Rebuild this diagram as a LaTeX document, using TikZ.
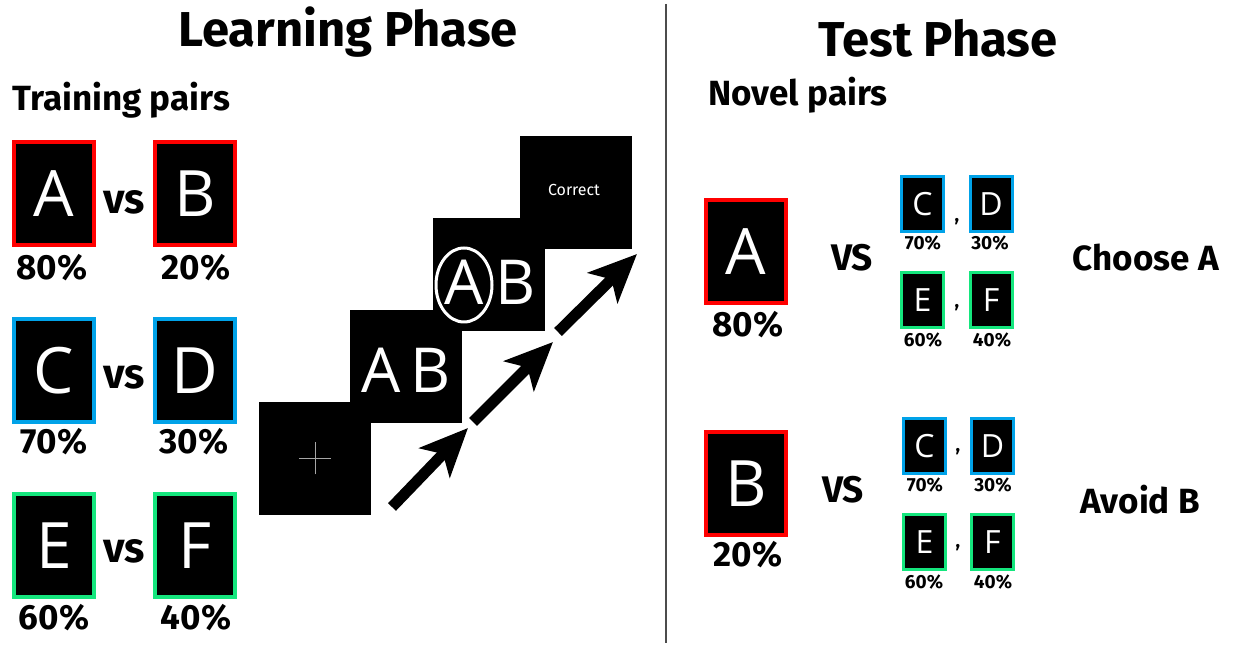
\documentclass[tikz,border=0pt]{standalone}
\usepackage{fontspec}
\setmainfont{Fira Sans}
\newfontfamily\letterfont{Open Sans}
\usetikzlibrary{arrows.meta,shapes.geometric}
\definecolor{redc}{RGB}{255,0,0}
\definecolor{bluec}{RGB}{0,162,232}
\definecolor{greenc}{RGB}{20,230,125}
\tikzset{
  bigbox/.style={fill=black,draw=#1,line width=2pt,minimum width=40pt,minimum height=51.5pt,inner sep=0pt,
    text=white,font=\letterfont\fontsize{32}{36}\selectfont},
  smallbox/.style={fill=black,draw=#1,line width=1.5pt,minimum width=21pt,minimum height=27.5pt,inner sep=0pt,
    text=white,font=\letterfont\fontsize{16}{18}\selectfont},
  screen/.style={fill=black,minimum width=56pt,minimum height=56.5pt,inner sep=0pt},
  scrletter/.style={text=white,font=\letterfont\fontsize{31}{36}\selectfont,inner sep=0pt},
  title/.style={font=\bfseries\fontsize{24.5}{28}\selectfont},
  heading/.style={font=\bfseries\fontsize{17.5}{20}\selectfont},
  pct/.style={font=\bfseries\fontsize{17.5}{20}\selectfont},
  spct/.style={font=\bfseries\fontsize{9.5}{11}\selectfont},
  vs/.style={font=\bfseries\fontsize{#1}{22}\selectfont},
  bigarrow/.style={line width=5.5pt,-{Stealth[length=24pt,width=21pt,inset=6pt]}}
}
\begin{document}
\begin{tikzpicture}[x=0.5pt,y=-0.5pt]
\useasboundingbox (0,0) rectangle (1233,646);
% divider
\coordinate (divtop) at (666,4);
\coordinate (divbot) at (666,643);
\draw[black!70,line width=0.8pt] (divtop) -- (divbot);
% titles
\node (learn) [title] at (348,32) {Learning Phase};
\node (test) [title] at (938,38) {Test Phase};
\node (train) [heading,anchor=west,inner sep=0pt] at (12,100) {Training pairs};
\node (novel) [heading,anchor=west,inner sep=0pt] at (708,95) {Novel pairs};
% training pairs
\node (tA) [bigbox=redc] at (54,193.5) {A};
\node (tB) [bigbox=redc] at (195,193.5) {B};
\node (tC) [bigbox=bluec] at (54,370.5) {C};
\node (tD) [bigbox=bluec] at (195,370.5) {D};
\node (tE) [bigbox=greenc] at (54,546) {E};
\node (tF) [bigbox=greenc] at (195,546) {F};
\node (vs1) [vs=21] at (124,202) {vs};
\node (vs2) [vs=21] at (124,377) {vs};
\node (vs3) [vs=21] at (124,551) {vs};
\node (pA) [pct] at (52,268) {80\%};
\node (pB) [pct] at (196,268) {20\%};
\node (pC) [pct] at (54,442) {70\%};
\node (pD) [pct] at (194,442) {30\%};
\node (pE) [pct] at (54,618) {60\%};
\node (pF) [pct] at (196,618) {40\%};
% trial sequence
\node (fix) [screen] at (315,458.5) {};
\draw[black!35,line width=0.5pt] ([xshift=-8pt]fix.center) -- ([xshift=8pt]fix.center)
  ([yshift=-8pt]fix.center) -- ([yshift=8pt]fix.center);
\node (stim) [screen] at (406,367) {};
\node (choice) [screen] at (489,275) {};
\node (fb) [screen] at (576,193) {};
\node (stimA) [scrletter] at (381,370) {A};
\node (stimB) [scrletter] at (431,370) {B};
\node (chA) [scrletter] at (464,282) {A};
\node (chB) [scrletter] at (516,282) {B};
\node (ring) [ellipse,draw=white,line width=1.5pt,minimum width=28pt,minimum height=37pt,inner sep=0pt] at (464,285) {};
\node (corr) [text=white,font=\fontsize{8}{10}\selectfont] at (574,190) {Correct};
\coordinate (a1s) at (392,507);
\coordinate (a1e) at (468,428);
\coordinate (a2s) at (473,422);
\coordinate (a2e) at (553,342);
\coordinate (a3s) at (558,332);
\coordinate (a3e) at (637,254);
\draw[bigarrow] (a1s) -- (a1e);
\draw[bigarrow] (a2s) -- (a2e);
\draw[bigarrow] (a3s) -- (a3e);
% test: choose A
\node (nA) [bigbox=redc] at (746,252) {A};
\node (pnA) [pct] at (748,325) {80\%};
\node (vsA) [vs=18.5] at (852,258) {VS};
\node (nC1) [smallbox=bluec] at (922.5,204) {C};
\node (nD1) [smallbox=bluec] at (991,204) {D};
\node (nE1) [smallbox=greenc] at (922.5,300) {E};
\node (nF1) [smallbox=greenc] at (991,300) {F};
\node (cm1) [spct] at (957,222) {,};
\node (cm2) [spct] at (957,308) {,};
\node (pC1) [spct] at (923,243) {70\%};
\node (pD1) [spct] at (990,243) {30\%};
\node (pE1) [spct] at (923,340) {60\%};
\node (pF1) [spct] at (992,340) {40\%};
\node (chooseA) [heading] at (1146,258) {Choose A};
% test: avoid B
\node (nB) [bigbox=redc] at (746,484) {B};
\node (pnB) [pct] at (748,555) {20\%};
\node (vsB) [vs=18.5] at (843,490) {VS};
\node (nC2) [smallbox=bluec] at (924.5,446) {C};
\node (nD2) [smallbox=bluec] at (992.5,446) {D};
\node (nE2) [smallbox=greenc] at (924.5,542.5) {E};
\node (nF2) [smallbox=greenc] at (992.5,542.5) {F};
\node (cm3) [spct] at (958,452) {,};
\node (cm4) [spct] at (958,548) {,};
\node (pC2) [spct] at (925,485) {70\%};
\node (pD2) [spct] at (993,485) {30\%};
\node (pE2) [spct] at (924,582) {60\%};
\node (pF2) [spct] at (993,582) {40\%};
\node (avoidB) [heading] at (1140,500) {Avoid B};
\end{tikzpicture}
\end{document}
